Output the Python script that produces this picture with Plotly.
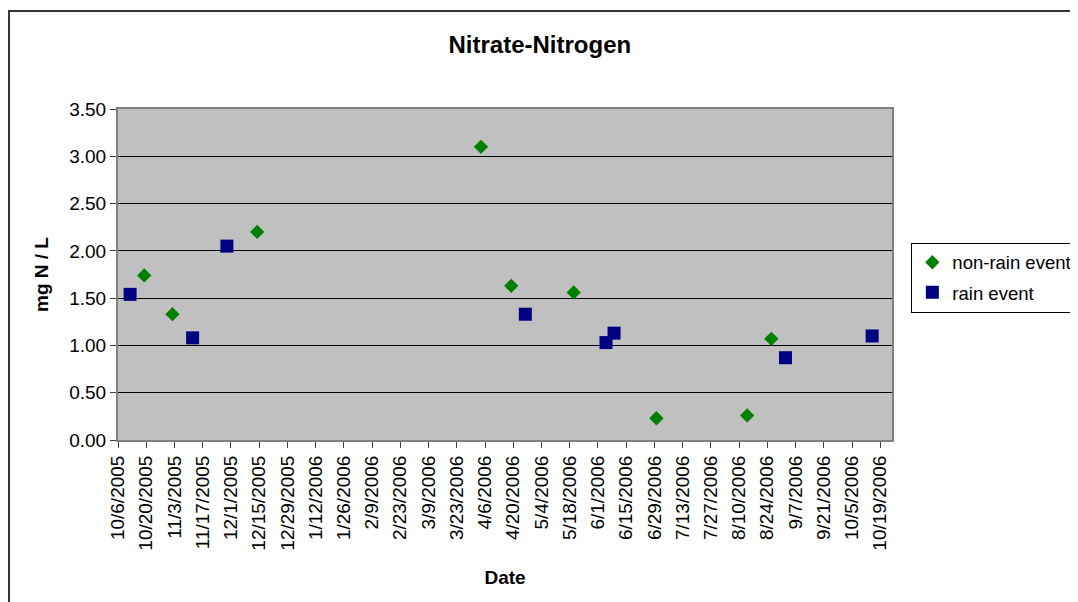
import pandas as pd
import plotly.graph_objects as go

# non-rain event samples
dry_dates = ["2005-10-19", "2005-11-02", "2005-12-14", "2006-04-04", "2006-04-19",
             "2006-05-20", "2006-06-30", "2006-08-14", "2006-08-26"]
dry_values = [1.74, 1.33, 2.20, 3.10, 1.63, 1.56, 0.23, 0.26, 1.07]

# rain event samples
rain_dates = ["2005-10-12", "2005-11-12", "2005-11-29", "2006-04-26", "2006-06-05",
              "2006-06-09", "2006-09-02", "2006-10-15"]
rain_values = [1.54, 1.08, 2.05, 1.33, 1.03, 1.13, 0.87, 1.10]

# date axis ticks every two weeks
tick_dates = pd.date_range("2005-10-06", "2006-10-19", freq="14D")
tick_labels = [f"{d.month}/{d.day}/{d.year}" for d in tick_dates]

FONT = "Arial, Liberation Sans, sans-serif"

fig = go.Figure()
fig.add_trace(go.Scatter(
    x=dry_dates, y=dry_values, mode="markers", name="non-rain event",
    legendgroup="dry",
    marker=dict(symbol="diamond", size=11, color="#008000"),
))
fig.add_trace(go.Scatter(
    x=rain_dates, y=rain_values, mode="markers", name="rain event",
    legendgroup="rain",
    marker=dict(symbol="square", size=13, color="#000080"),
))

# page has an 8px body margin, so the figure is sized to the remaining window
fig.update_layout(
    width=1070,
    height=594,
    margin=dict(l=110, r=186, t=101, b=162, autoexpand=False),
    paper_bgcolor="white",
    plot_bgcolor="#C0C0C0",
    font=dict(family=FONT, size=19, color="black"),
    title=dict(
        text="<b>Nitrate-Nitrogen</b>",
        font=dict(size=24, color="black"),
        xref="paper", x=0.545, xanchor="center",
        yref="container", y=0.939, yanchor="middle",
    ),
    legend=dict(
        x=1.025, xanchor="left", y=0.596, yanchor="top",
        bordercolor="black", borderwidth=1, bgcolor="white",
        font=dict(size=18.5), itemwidth=30, tracegroupgap=3,
    ),
    showlegend=True,
)

fig.update_xaxes(
    range=["2005-10-06", "2006-10-24T20:00"],
    tickvals=tick_dates, ticktext=tick_labels, tickangle=-90,
    ticks="outside", ticklen=6, tickcolor="#404040",
    showline=True, linecolor="#808080", linewidth=2, mirror=True,
    showgrid=False, zeroline=False,
    title=dict(text="<b>Date</b>", font=dict(size=19), standoff=21),
)
fig.update_yaxes(
    range=[0, 3.5], dtick=0.5, tickformat=".2f",
    ticks="outside", ticklen=6, tickcolor="#404040",
    showline=True, linecolor="#808080", linewidth=2, mirror=True,
    showgrid=True, gridcolor="black", gridwidth=1, zeroline=False,
    title=dict(text="<b>mg N / L</b>", font=dict(size=19), standoff=16),
)

# outer chart-area border (right and bottom edges fall outside the frame)
fig.add_shape(
    type="rect", xref="paper", yref="paper",
    x0=-0.1408, x1=1.35, y0=-0.7, y1=1.296,
    line=dict(color="#333333", width=2), fillcolor="rgba(0,0,0,0)",
)

fig.write_html("out.html")
